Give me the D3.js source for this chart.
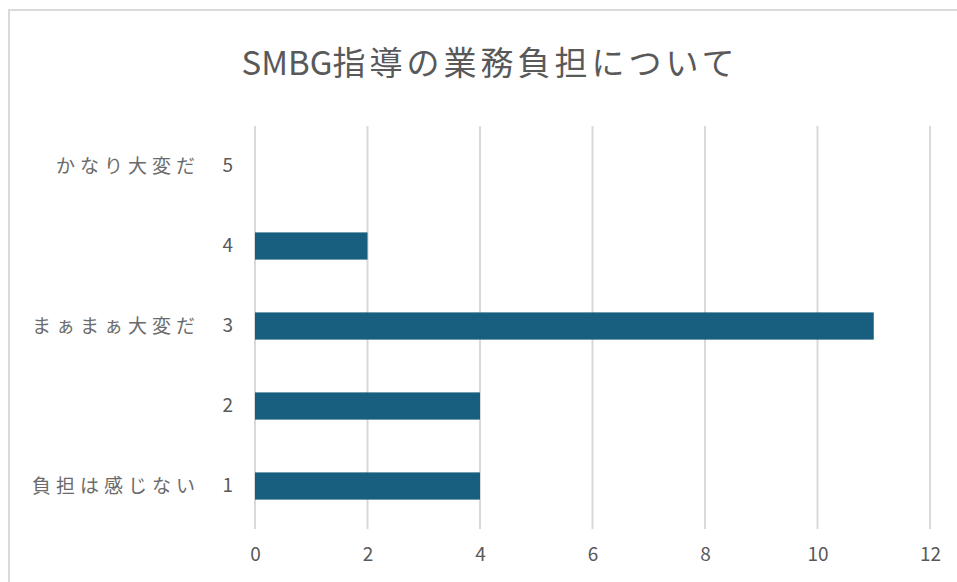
<!DOCTYPE html>
<html>
<head>
<meta charset="utf-8">
<script src="https://cdn.jsdelivr.net/npm/d3@7"></script>
<style>
  html, body { margin: 0; padding: 0; background: #fff; }
  svg { display: block; }
</style>
</head>
<body>
<svg id="chart" width="957" height="582"></svg>
<script>
const titleLatin = "SMBG";
const titleCJK = "指導の業務負担について";
const categories = ["5", "4", "3", "2", "1"];
const categoryLabels = ["かなり大変だ", "", "まぁまぁ大変だ", "", "負担は感じない"];
const values = [0, 2, 11, 4, 4];
const xTicks = [0, 2, 4, 6, 8, 10, 12];

const svg = d3.select("#chart");
const font = "'Noto Sans CJK JP', 'Noto Sans', sans-serif";

// chart border
svg.append("rect")
  .attr("x", 9).attr("y", 10)
  .attr("width", 980).attr("height", 600)
  .attr("fill", "#fff")
  .attr("stroke", "#d9d9d9")
  .attr("stroke-width", 2);

const x = d3.scaleLinear().domain([0, 12]).range([255, 930]);
const y = d3.scaleBand().domain(categories).range([126, 526])
  .paddingInner(0.66).paddingOuter(0.33);

// gridlines
svg.append("g").selectAll("line")
  .data(xTicks).join("line")
  .attr("x1", d => x(d)).attr("x2", d => x(d))
  .attr("y1", 126).attr("y2", 529)
  .attr("stroke", "#d9d9d9")
  .attr("stroke-width", 2);

// bars
svg.append("g").selectAll("rect")
  .data(categories).join("rect")
  .attr("x", x(0))
  .attr("y", d => y(d))
  .attr("width", (d, i) => x(values[i]) - x(0))
  .attr("height", y.bandwidth())
  .attr("fill", "#175e7f");

// x axis labels
const xAxis = d3.axisBottom(x).tickValues(xTicks).tickSize(0).tickPadding(0);
const gx = svg.append("g").attr("transform", "translate(0,547)").call(xAxis);
gx.select(".domain").remove();
gx.selectAll("text")
  .attr("font-family", font)
  .attr("font-size", 19)
  .attr("fill", "#595959")
  .attr("dy", "0.71em");

// y axis: numeric labels
const yAxis = d3.axisLeft(y).tickSize(0).tickPadding(0);
const gy = svg.append("g").attr("transform", "translate(233,0)").call(yAxis);
gy.select(".domain").remove();
gy.selectAll("text")
  .attr("font-family", font)
  .attr("font-size", 19)
  .attr("fill", "#595959");

// y axis: text category labels
svg.append("g").selectAll("text")
  .data(categories).join("text")
  .attr("x", 200)
  .attr("y", d => y(d) + y.bandwidth() / 2)
  .attr("dy", "0.35em")
  .attr("text-anchor", "end")
  .attr("font-family", font)
  .attr("font-size", 19)
  .attr("letter-spacing", "5px")
  .attr("fill", "#6b6b6b")
  .text((d, i) => categoryLabels[i]);

// title
const t = svg.append("text")
  .attr("x", 490).attr("y", 75)
  .attr("text-anchor", "middle")
  .attr("font-family", font)
  .attr("font-size", 33)
  .attr("fill", "#595959");
t.append("tspan").attr("letter-spacing", "0px").text(titleLatin);
t.append("tspan").attr("letter-spacing", "4px").text(titleCJK);
</script>
</body>
</html>
